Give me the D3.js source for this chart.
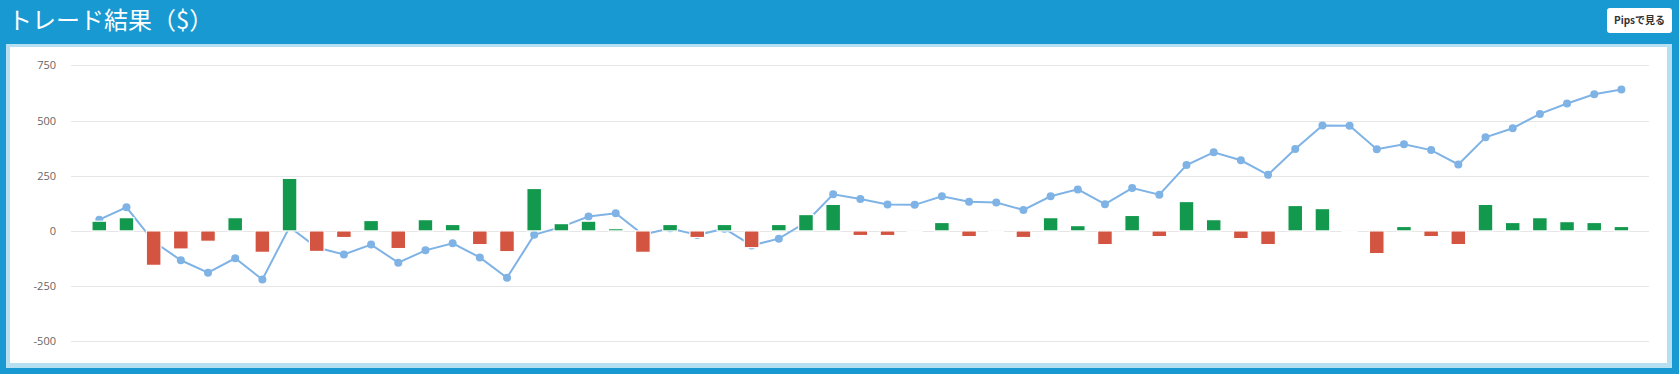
<!DOCTYPE html>
<html lang="ja">
<head>
  <meta charset="UTF-8">
  <title>トレード結果</title>
  <script src="https://d3js.org/d3.v7.min.js"></script>
  <style>
    body {
      margin: 0;
      background: #1899d1;
      font-family: "Noto Sans CJK JP", "Noto Sans", sans-serif;
      overflow: hidden;
    }
    .tick-label {
      font-family: "Open Sans", "Noto Sans", sans-serif;
      font-size: 11px;
      fill: #666;
      text-anchor: end;
    }
    .grid {
      stroke: #e6e6e6;
      stroke-width: 1;
    }
  </style>
</head>
<body>
  <svg width="1679" height="374"></svg>

  <script>
    // Trade-Nummern (x-Kategorien)
    const trades = [1, 2, 3, 4, 5, 6, 7, 8, 9, 10, 11, 12, 13, 14, 15, 16, 17, 18, 19, 20,
      21, 22, 23, 24, 25, 26, 27, 28, 29, 30, 31, 32, 33, 34, 35, 36, 37, 38, 39, 40,
      41, 42, 43, 44, 45, 46, 47, 48, 49, 50, 51, 52, 53, 54, 55, 56, 57];

    // Ergebnis je Trade ($)
    const pnl = [44, 60, -156, -82, -47, 60, -97, 238, -93, -30,
      47, -80, 51, 29, -62, -94, 192, 33, 44, 10,
      -97, 29, -30, 29, -76, 29, 74, 120, -21, -21,
      0, 38, -26, 0, -30, 60, 24, -62, 70, -26,
      133, 51, -35, -62, 115, 101, 0, -103, 20, -26,
      -62, 120, 38, 60, 42, 38, 20];

    // kumulierter Saldo ($)
    const balance = [51, 107, -48, -133, -189, -124, -220, 18, -75, -107,
      -62, -144, -88, -56, -120, -212, -18, 18, 65, 80,
      -17, 12, -19, 10, -66, -35, 39, 166, 144, 120,
      118, 157, 132, 129, 95, 157, 188, 121, 194, 164,
      298, 356, 320, 254, 371, 477, 476, 370, 392, 366,
      301, 424, 465, 530, 577, 619, 640];

    const yTicks = [-500, -250, 0, 250, 500, 750];

    const svg = d3.select("svg");

    // Kopfzeile
    svg.append("text")
      .attr("x", 8)
      .attr("y", 29)
      .attr("fill", "#fff")
      .style("font-size", "24px")
      .text("トレード結果（$）");

    svg.append("rect")
      .attr("x", 1607).attr("y", 8)
      .attr("width", 65).attr("height", 25)
      .attr("rx", 3)
      .attr("fill", "#fff");
    svg.append("text")
      .attr("x", 1639.5).attr("y", 24)
      .attr("text-anchor", "middle")
      .attr("fill", "#333")
      .style("font-size", "10px")
      .style("font-weight", "bold")
      .text("Pipsで見る");

    // Panel
    svg.append("rect")
      .attr("x", 6).attr("y", 44)
      .attr("width", 1666).attr("height", 324)
      .attr("fill", "#b6dff1");
    svg.append("rect")
      .attr("x", 10).attr("y", 47)
      .attr("width", 1657).attr("height", 316)
      .attr("fill", "#fff");

    const x = d3.scaleBand()
      .domain(trades)
      .range([85.7, 1635])
      .paddingInner(0.46)
      .paddingOuter(0.23);

    const y = d3.scaleLinear()
      .domain([-500, 750])
      .range([341.3, 65.3]);

    // Gitter
    svg.append("g")
      .selectAll("line")
      .data(yTicks)
      .join("line")
      .attr("class", "grid")
      .attr("x1", 71).attr("x2", 1649)
      .attr("y1", d => Math.round(y(d)) + 0.5)
      .attr("y2", d => Math.round(y(d)) + 0.5);

    svg.append("g")
      .selectAll("text")
      .data(yTicks)
      .join("text")
      .attr("class", "tick-label")
      .attr("x", 56)
      .attr("y", d => y(d) + 4)
      .text(d => d);

    // Saldo-Linie
    const cx = (d, i) => x(trades[i]) + x.bandwidth() / 2;
    const lineColor = "#7fb3e5";

    svg.append("path")
      .datum(balance)
      .attr("fill", "none")
      .attr("stroke", lineColor)
      .attr("stroke-width", 2)
      .attr("d", d3.line().x(cx).y(d => y(d)));

    svg.append("g")
      .selectAll("circle")
      .data(balance)
      .join("circle")
      .attr("cx", cx)
      .attr("cy", d => y(d))
      .attr("r", 4)
      .attr("fill", lineColor);

    // Balken
    svg.append("g")
      .selectAll("rect")
      .data(pnl)
      .join("rect")
      .attr("x", (d, i) => x(trades[i]))
      .attr("y", d => y(Math.max(0, d)))
      .attr("width", x.bandwidth())
      .attr("height", d => Math.max(0.5, Math.abs(y(d) - y(0))))
      .attr("fill", d => d >= 0 ? "#13994d" : "#d35440")
      .attr("stroke", "#fff")
      .attr("stroke-width", 1.2);
  </script>
</body>
</html>
